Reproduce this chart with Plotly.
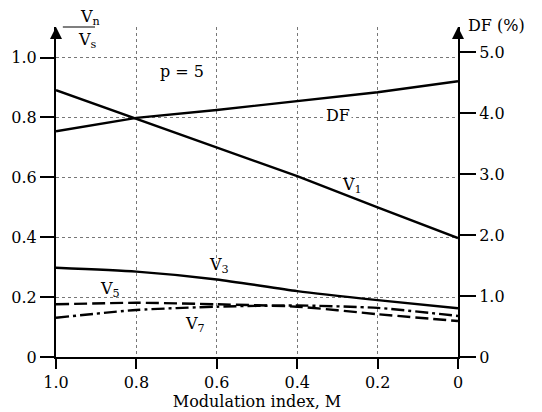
import plotly.graph_objects as go

M = [1.0, 0.8, 0.6, 0.4, 0.2, 0.0]
V1 = [0.891, 0.795, 0.698, 0.604, 0.500, 0.397]
V3 = [0.298, 0.285, 0.259, 0.220, 0.190, 0.163]
V5 = [0.176, 0.181, 0.176, 0.168, 0.143, 0.120]
V7 = [0.131, 0.157, 0.168, 0.172, 0.164, 0.137]
DF = [3.70, 3.92, 4.05, 4.19, 4.34, 4.52]

x_ticks = [1.0, 0.8, 0.6, 0.4, 0.2, 0.0]
x_labels = ["1.0", "0.8", "0.6", "0.4", "0.2", "0"]
y_ticks = [0, 0.2, 0.4, 0.6, 0.8, 1.0]
y_labels = ["0", "0.2", "0.4", "0.6", "0.8", "1.0"]
df_ticks = [0, 1, 2, 3, 4, 5]
df_labels = ["0", "1.0", "2.0", "3.0", "4.0", "5.0"]

FONT = "DejaVu Serif, Liberation Serif, serif"
lw = 2.4

fig = go.Figure()
fig.add_trace(go.Scatter(x=M, y=V1, mode="lines", line=dict(color="black", width=lw), showlegend=False))
fig.add_trace(go.Scatter(x=M, y=V3, mode="lines", line=dict(color="black", width=lw, shape="spline", smoothing=0.6), showlegend=False))
fig.add_trace(go.Scatter(x=M, y=V5, mode="lines", line=dict(color="black", width=lw, dash="13px,5px", shape="spline", smoothing=0.6), showlegend=False))
fig.add_trace(go.Scatter(x=M, y=V7, mode="lines", line=dict(color="black", width=lw, dash="13px,4px,3px,4px", shape="spline", smoothing=0.6), showlegend=False))
fig.add_trace(go.Scatter(x=M, y=DF, mode="lines", yaxis="y2", line=dict(color="black", width=lw), showlegend=False))

tickfont = dict(family=FONT, size=16, color="black")
# page body has an 8px margin, so the figure is sized/offset to compensate
fig.update_layout(
    width=534, height=404,
    margin=dict(l=48, r=84, t=19, b=55),
    paper_bgcolor="white", plot_bgcolor="white",
    font=dict(family=FONT, color="black"),
    xaxis=dict(range=[1.0, 0.0], tickvals=x_ticks, ticktext=x_labels, tickfont=tickfont,
               showline=True, linecolor="black", linewidth=2, ticks="outside", ticklen=10,
               tickwidth=1.5, tickcolor="black", automargin=False,
               showgrid=True, gridcolor="#777", griddash="dot", gridwidth=1, zeroline=False,
               title=dict(text="Modulation index, M", font=dict(family=FONT, size=16), standoff=0)),
    yaxis=dict(range=[0, 1.102], tickvals=y_ticks, ticktext=y_labels, tickfont=tickfont,
               showline=True, linecolor="black", linewidth=2, ticks="outside", ticklen=14,
               tickwidth=1.5, tickcolor="black", automargin=False,
               showgrid=True, gridcolor="#777", griddash="dot", gridwidth=1, zeroline=False),
    yaxis2=dict(range=[0, 5.41], overlaying="y", side="right", tickvals=df_ticks, ticktext=df_labels,
                tickfont=tickfont, showline=True, linecolor="black", linewidth=2, ticks="outside",
                ticklen=16, tickwidth=1.5, tickcolor="black", showgrid=False, zeroline=False,
                automargin=False),
)

lab = dict(family=FONT, size=16, color="black")
fig.add_annotation(x=0.687, y=0.952, text="p = 5", showarrow=False, font=lab)
fig.add_annotation(x=0.298, y=0.805, text="DF", showarrow=False, font=lab, bgcolor="white")
fig.add_annotation(x=0.264, y=0.574, text="V<sub>1</sub>", showarrow=False, font=lab)
fig.add_annotation(x=0.594, y=0.305, text="V<sub>3</sub>", showarrow=False, font=lab)
fig.add_annotation(x=0.866, y=0.225, text="V<sub>5</sub>", showarrow=False, font=lab)
fig.add_annotation(x=0.655, y=0.108, text="V<sub>7</sub>", showarrow=False, font=lab)

# axis arrows
for xp in (0, 1):
    fig.add_annotation(xref="paper", yref="paper", x=xp, y=1.0, ax=0, ay=12, text="", showarrow=True,
                       arrowhead=2, arrowsize=1.2, arrowwidth=2, arrowcolor="black")

# left axis title: fraction Vn / Vs
fig.add_annotation(xref="paper", yref="paper", x=0.0, y=1.0, xshift=22, yshift=10, yanchor="middle",
                   text="V<sub>n</sub>", showarrow=False, font=lab)
fig.add_annotation(xref="paper", yref="paper", x=0.0, y=1.0, xshift=20, yshift=-13, yanchor="middle",
                   text="V<sub>s</sub>", showarrow=False, font=lab)
fig.add_shape(type="line", xref="paper", yref="paper", x0=0.017, x1=0.097, y0=1.0, y1=1.0,
              line=dict(color="black", width=1.2))
# right axis title
fig.add_annotation(xref="paper", yref="paper", x=1.0, y=1.0, xshift=8, yshift=2, xanchor="left",
                   yanchor="middle", text="DF (%)", showarrow=False,
                   font=dict(family=FONT, size=16, color="black"))

fig.write_html("out.html")
